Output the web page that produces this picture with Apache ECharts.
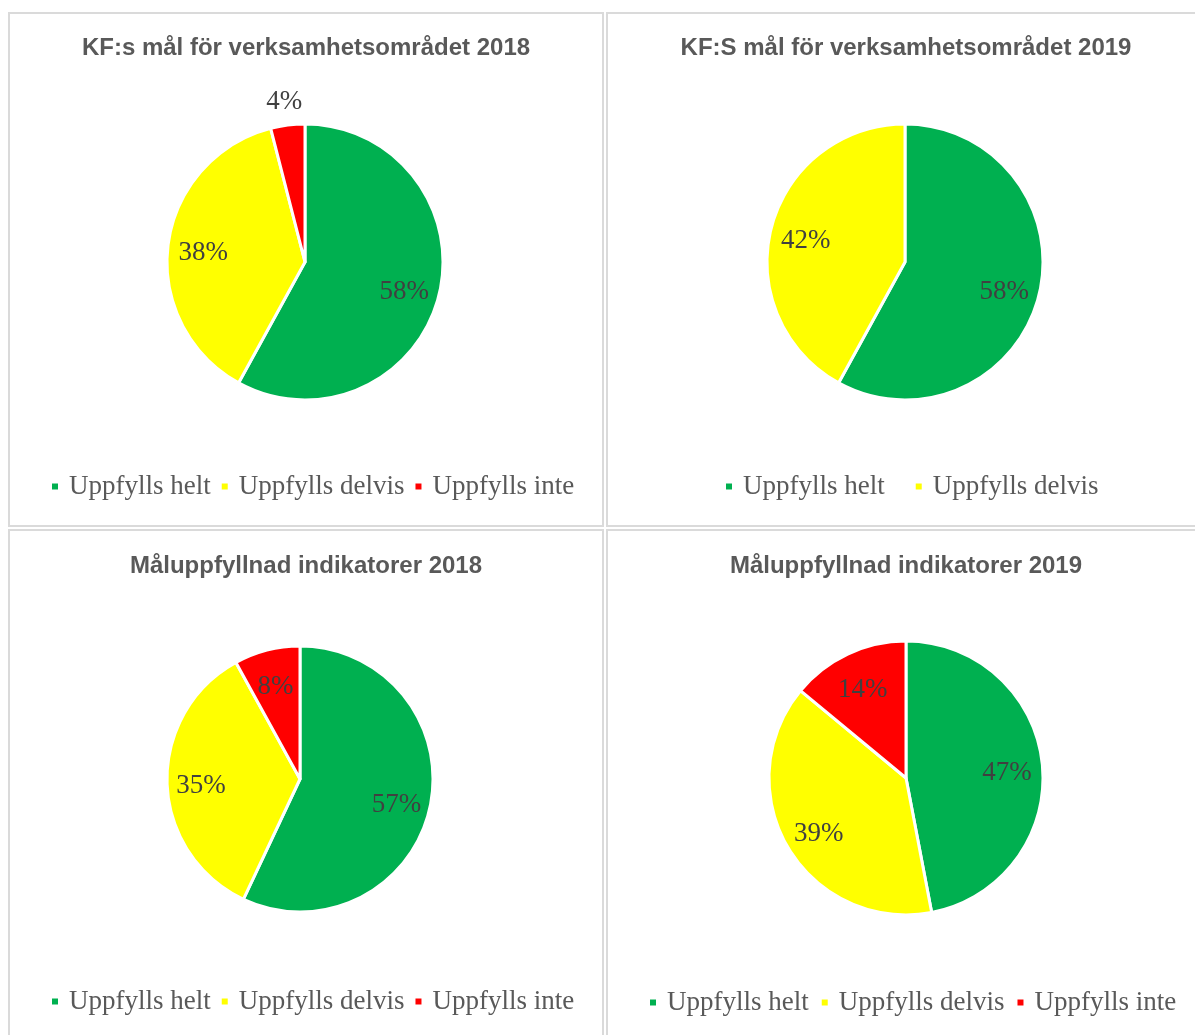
<!DOCTYPE html>
<html>
<head>
<meta charset="utf-8">
<script src="https://cdn.jsdelivr.net/npm/echarts@6/dist/echarts.min.js"></script>
<style>
  html, body { margin: 0; padding: 0; background: #ffffff; width: 1195px; height: 1035px; overflow: hidden; }
  .panel { position: absolute; box-sizing: border-box; border: 2px solid #dadada; background: #fff; }
  .chart { position: absolute; left: 0; top: 0; right: 0; bottom: 0; }
</style>
</head>
<body>
<div class="panel" style="left:8px;top:12px;width:596px;height:515px;"><div class="chart" id="c1"></div></div>
<div class="panel" style="left:606px;top:12px;width:600px;height:515px;"><div class="chart" id="c2"></div></div>
<div class="panel" style="left:8px;top:529px;width:596px;height:520px;"><div class="chart" id="c3"></div></div>
<div class="panel" style="left:606px;top:529px;width:600px;height:520px;"><div class="chart" id="c4"></div></div>
<script>
// ---- Data ----
const categories = ['Uppfylls helt', 'Uppfylls delvis', 'Uppfylls inte'];
const colors = ['#00B050', '#FFFF00', '#FF0000'];

const titles = [
  'KF:s mål för verksamhetsområdet 2018',
  'KF:S mål för verksamhetsområdet 2019',
  'Måluppfyllnad indikatorer 2018',
  'Måluppfyllnad indikatorer 2019'
];

const kf2018 = [58, 38, 4];
const kf2019 = [58, 42];
const ind2018 = [57, 35, 8];
const ind2019 = [47, 39, 14];

// outside-labelled slices (index) per panel
const outsideLabels = [[2], [], [], []];

// ---- Layout per panel (positions/sizes only) ----
const layouts = [
  { id: 'c1', values: kf2018, center: [295, 248], r: 138, titleTop: 22, legendLeft: 40, legendTop: 459, legendGap: 9 },
  { id: 'c2', values: kf2019, center: [297, 248], r: 138, titleTop: 22, legendLeft: 116, legendTop: 459, legendGap: 29 },
  { id: 'c3', values: ind2018, center: [290, 248], r: 133, titleTop: 23, legendLeft: 40, legendTop: 457, legendGap: 9 },
  { id: 'c4', values: ind2019, center: [298, 247], r: 137, titleTop: 23, legendLeft: 40, legendTop: 458, legendGap: 11 }
];

const labelFont = { fontFamily: 'Liberation Serif', fontSize: 27, color: '#404040', offset: [0, 4] };

layouts.forEach((L, idx) => {
  const chart = echarts.init(document.getElementById(L.id), null, { renderer: 'canvas' });
  const names = categories.slice(0, L.values.length);
  const outs = outsideLabels[idx];

  const mainData = L.values.map((v, i) => ({ name: names[i], value: v, itemStyle: { color: colors[i] } }));
  const insideLabelData = L.values.map((v, i) => ({
    name: names[i], value: v,
    label: { show: outs.indexOf(i) < 0 }
  }));
  const outsideLabelData = L.values.map((v, i) => ({
    name: names[i], value: v,
    label: { show: outs.indexOf(i) >= 0 }
  }));

  const series = [
    {
      type: 'pie',
      center: L.center,
      radius: [0, L.r],
      startAngle: 90,
      clockwise: true,
      silent: true,
      label: { show: false },
      labelLine: { show: false },
      itemStyle: { borderColor: '#ffffff', borderWidth: 3 },
      emphasis: { disabled: true },
      data: mainData
    },
    {
      type: 'pie',
      center: L.center,
      radius: [Math.round(L.r * 0.44), L.r],
      startAngle: 90,
      clockwise: true,
      silent: true,
      itemStyle: { color: 'rgba(0,0,0,0)', borderWidth: 0 },
      emphasis: { disabled: true },
      label: Object.assign({ position: 'inside', formatter: p => p.value + '%' }, labelFont),
      labelLine: { show: false },
      data: insideLabelData
    }
  ];
  if (outs.length) {
    series.push({
      type: 'pie',
      center: L.center,
      radius: [L.r + 14, L.r + 34],
      startAngle: 90,
      clockwise: true,
      silent: true,
      itemStyle: { color: 'rgba(0,0,0,0)', borderWidth: 0 },
      emphasis: { disabled: true },
      label: Object.assign({ position: 'inside', formatter: p => p.value + '%' }, labelFont),
      labelLine: { show: false },
      data: outsideLabelData
    });
  }

  chart.setOption({
    animation: false,
    color: colors,
    title: {
      text: titles[idx],
      left: 'center',
      top: L.titleTop,
      padding: 0,
      textStyle: { fontFamily: 'Liberation Sans', fontWeight: 'bold', fontSize: 24, color: '#595959' }
    },
    legend: {
      data: names,
      left: L.legendLeft,
      top: L.legendTop,
      orient: 'horizontal',
      itemWidth: 8,
      itemHeight: 8,
      itemGap: L.legendGap,
      icon: 'rect',
      selectedMode: false,
      padding: 0,
      textStyle: { fontFamily: 'Liberation Serif', fontSize: 27, color: '#595959', padding: [0, 0, 0, 5] }
    },
    series: series
  });
});
</script>
</body>
</html>
